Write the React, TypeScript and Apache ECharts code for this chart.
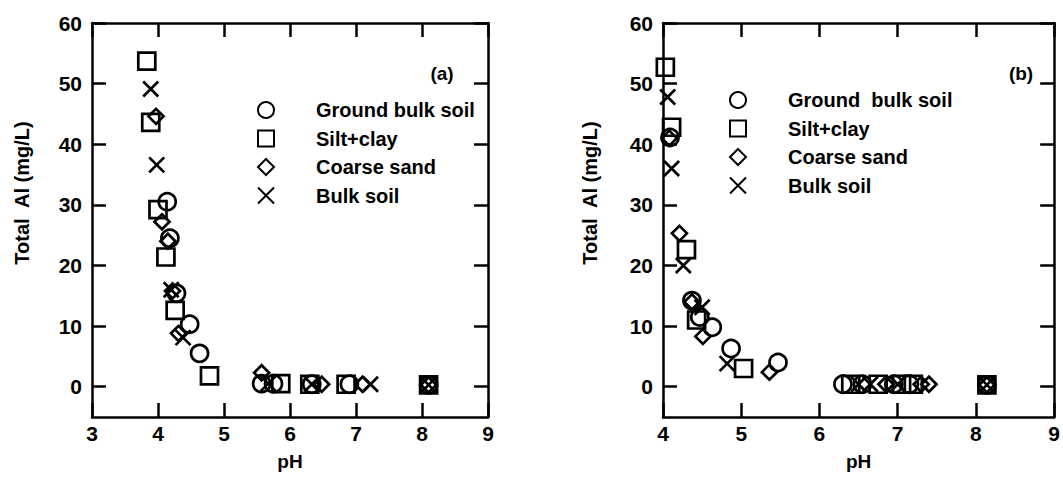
import React, { useEffect, useRef } from "react";
import * as echarts from "echarts";

// ---- data: [pH, Total Al (mg/L)] ----
const groundA = [[4.14, 30.5], [4.18, 24.5], [4.28, 15.4], [4.48, 10.3], [4.63, 5.5], [5.57, 0.5], [5.75, 0.5], [6.33, 0.4], [6.9, 0.4], [8.1, 0.3]];
const siltA = [[3.83, 53.7], [3.89, 43.6], [4.0, 29.2], [4.12, 21.4], [4.26, 12.6], [4.78, 1.8], [5.86, 0.5], [6.3, 0.4], [6.85, 0.4], [8.1, 0.3]];
const coarseA = [[3.97, 44.6], [4.06, 27.2], [4.15, 24.0], [4.22, 15.8], [4.31, 8.8], [5.57, 2.3], [6.48, 0.4], [7.1, 0.4], [8.1, 0.3]];
const bulkA = [[3.89, 49.1], [3.98, 36.6], [4.2, 16.0], [4.38, 8.1], [5.67, 0.5], [6.33, 0.4], [7.22, 0.4], [8.1, 0.3]];

const groundB = [[4.09, 41.1], [4.37, 14.2], [4.47, 11.5], [4.63, 9.8], [4.87, 6.3], [5.47, 4.0], [6.3, 0.4], [6.55, 0.4], [6.95, 0.4], [7.15, 0.4], [8.14, 0.3]];
const siltB = [[4.03, 52.7], [4.11, 42.8], [4.3, 22.6], [4.43, 11.0], [5.03, 3.0], [6.4, 0.4], [6.75, 0.4], [7.05, 0.4], [7.2, 0.4], [8.14, 0.3]];
const coarseB = [[4.08, 41.0], [4.21, 25.3], [4.37, 14.0], [4.51, 8.3], [5.36, 2.4], [6.85, 0.4], [7.3, 0.4], [7.4, 0.4], [8.14, 0.3]];
const bulkB = [[4.06, 47.8], [4.11, 36.0], [4.26, 20.0], [4.5, 13.1], [4.82, 3.8], [6.5, 0.4], [6.65, 0.4], [7.0, 0.4], [8.14, 0.3]];

const namesA = ["Ground bulk soil", "Silt+clay", "Coarse sand", "Bulk soil"];
const namesB = ["Ground  bulk soil", "Silt+clay", "Coarse sand", "Bulk soil"];
const yTicks = [0, 10, 20, 30, 40, 50, 60];
const panelLabels = ["(a)", "(b)"];
const yTitle = "Total  Al (mg/L)";
const xTitle = "pH";

const FONT = '"Liberation Sans", Arial, sans-serif';
const CROSS = "path://M0,0L10,10M0,10L10,0";

const symbols = ["circle", "rect", "diamond", CROSS];
const sizes = [17, 17, 15, 15];

export default function App() {
  const ref = useRef<HTMLDivElement>(null);
  useEffect(() => {
    if (!ref.current) return;
    const chart = echarts.init(ref.current, undefined, { renderer: "svg" });
    const axisLine = { show: true, onZero: false, lineStyle: { color: "#000", width: 2.5 } };
    const tick = { show: true, inside: true, length: 14, lineStyle: { color: "#000", width: 2.5 } };
    const labelStyle = { color: "#000", fontSize: 21, fontWeight: "bold" as const, fontFamily: FONT };

    const xRanges = [[3, 9], [4, 9]];
    const xAxis: any[] = [];
    const yAxis: any[] = [];
    for (let g = 0; g < 2; g++) {
      xAxis.push({
        type: "value", gridIndex: g, min: xRanges[g][0], max: xRanges[g][1], interval: 1,
        axisLine, axisTick: tick, splitLine: { show: false },
        axisLabel: { ...labelStyle, margin: 6 },
        name: xTitle, nameLocation: "middle", nameGap: 35,
        nameTextStyle: { color: "#000", fontSize: 19, fontWeight: "bold", fontFamily: FONT },
      });
      xAxis.push({
        type: "value", gridIndex: g, position: "top", min: xRanges[g][0], max: xRanges[g][1], interval: 1,
        axisLine, axisTick: tick, splitLine: { show: false }, axisLabel: { show: false },
      });
      yAxis.push({
        type: "value", gridIndex: g, min: -5, max: 60,
        axisLine, axisTick: { ...tick, customValues: yTicks }, splitLine: { show: false },
        axisLabel: { ...labelStyle, margin: 10, customValues: yTicks },
      });
      yAxis.push({
        type: "value", gridIndex: g, position: "right", min: -5, max: 60,
        axisLine, axisTick: { ...tick, customValues: yTicks }, splitLine: { show: false },
        axisLabel: { show: false, customValues: yTicks },
      });
    }

    const dataA = [groundA, siltA, coarseA, bulkA];
    const dataB = [groundB, siltB, coarseB, bulkB];
    const series: any[] = [];
    [dataA, dataB].forEach((set, g) => {
      set.forEach((d, i) => {
        series.push({
          type: "scatter",
          name: (g === 0 ? namesA : namesB)[i],
          xAxisIndex: g * 2,
          yAxisIndex: g * 2,
          data: d,
          symbol: symbols[i],
          symbolSize: sizes[i],
          itemStyle: { color: "rgba(0,0,0,0)", borderColor: "#000", borderWidth: 2.7, opacity: 1 },
          emphasis: { disabled: true },
        });
      });
    });

    const legendBase = {
      orient: "vertical", itemWidth: 16, itemHeight: 16, itemGap: 8.5, selectedMode: false,
      itemStyle: { opacity: 1 },
      textStyle: { color: "#000", fontSize: 20, fontWeight: "bold", fontFamily: FONT, padding: [0, 0, 0, 37] },
    };

    const titleStyle = { fill: "#000", fontSize: 20, fontWeight: "bold", fontFamily: FONT, textAlign: "center", textVerticalAlign: "middle" };

    chart.setOption({
      animation: false,
      backgroundColor: "#fff",
      grid: [
        { left: 92, top: 23, width: 396, height: 394 },
        { left: 663, top: 23, width: 392, height: 394 },
      ],
      xAxis, yAxis, series,
      legend: [
        { ...legendBase, left: 252, top: 95, data: namesA },
        { ...legendBase, left: 724, top: 85, data: namesB },
      ],
      graphic: [
        { type: "text", x: 22, y: 193, rotation: Math.PI / 2, style: { ...titleStyle, text: yTitle } },
        { type: "text", x: 590, y: 193, rotation: Math.PI / 2, style: { ...titleStyle, text: yTitle } },
        { type: "text", x: 442, y: 73, style: { ...titleStyle, fontSize: 19, text: panelLabels[0] } },
        { type: "text", x: 1021, y: 73, style: { ...titleStyle, fontSize: 19, text: panelLabels[1] } },
      ],
    });
    return () => chart.dispose();
  }, []);
  return <div ref={ref} style={{ position: "fixed", left: 0, top: 0, width: 1063, height: 477 }} />;
}
